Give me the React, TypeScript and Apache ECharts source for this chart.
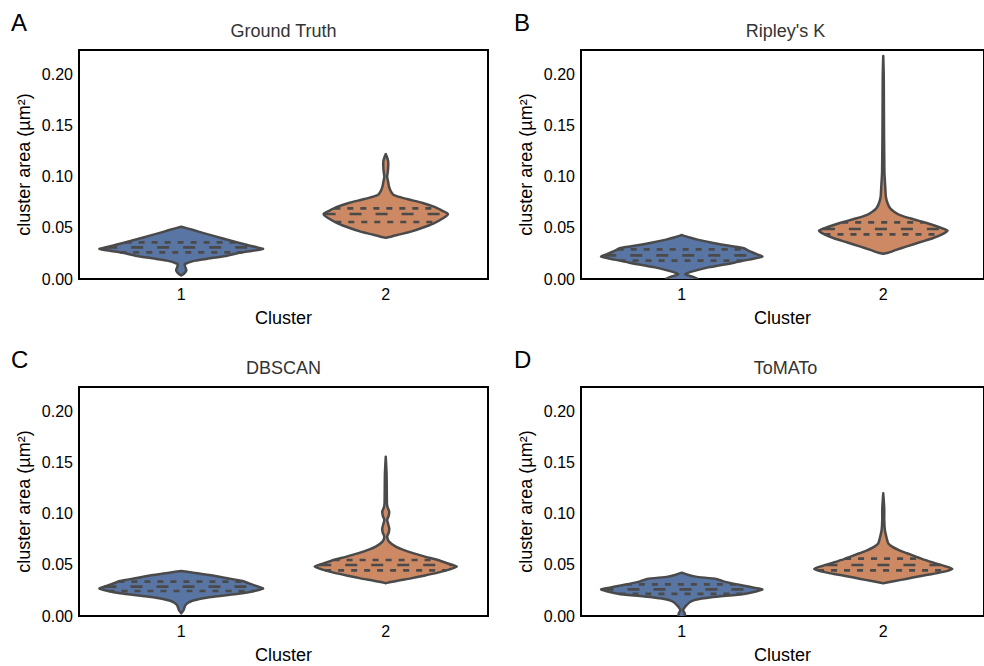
import React, { useEffect, useRef } from "react";
import * as echarts from "echarts";

// ---------- data ----------
const categories = ["1", "2"];
const yTicks = [0, 0.05, 0.1, 0.15, 0.2];
const yMax = 0.2245;
const panelTitles = ["Ground Truth", "Ripley's K", "DBSCAN", "ToMATo"];
const panelLetters = ["A", "B", "C", "D"];

// Violin outlines: y values (µm²) and half-widths (fraction of category band)
const gt1Y = [0.0035, 0.0055, 0.0085, 0.0115, 0.0145, 0.016, 0.018, 0.02, 0.0225, 0.0255, 0.0275, 0.0294, 0.031, 0.0335, 0.036, 0.038, 0.041, 0.0445, 0.048, 0.0513];
const gt1W = [0, 0.015, 0.025, 0.02, 0.017, 0.034, 0.069, 0.132, 0.216, 0.279, 0.343, 0.4, 0.372, 0.319, 0.27, 0.235, 0.181, 0.118, 0.059, 0];
const gt2Y = [0.0405, 0.0415, 0.044, 0.0464, 0.05, 0.0546, 0.06, 0.0637, 0.067, 0.0709, 0.0745, 0.0775, 0.08, 0.0824, 0.086, 0.0905, 0.095, 0.1003, 0.105, 0.11, 0.115, 0.119, 0.1225];
const gt2W = [0, 0.025, 0.074, 0.123, 0.176, 0.235, 0.284, 0.304, 0.275, 0.235, 0.181, 0.123, 0.074, 0.039, 0.025, 0.016, 0.012, 0.007, 0.01, 0.012, 0.012, 0.007, 0];

const rk1Y = [-0.006, -0.003, 0.0, 0.0025, 0.0046, 0.0072, 0.0114, 0.016, 0.019, 0.0219, 0.025, 0.028, 0.0301, 0.0325, 0.0353, 0.0386, 0.041, 0.0431];
const rk1W = [0, 0.059, 0.078, 0.049, 0.017, 0.049, 0.132, 0.26, 0.333, 0.4, 0.363, 0.328, 0.309, 0.235, 0.157, 0.078, 0.034, 0];
const rk2Y = [0.0248, 0.0258, 0.0285, 0.0317, 0.036, 0.0399, 0.044, 0.0474, 0.051, 0.0552, 0.059, 0.0627, 0.066, 0.0693, 0.075, 0.0807, 0.09, 0.1036, 0.12, 0.14, 0.16, 0.18, 0.2, 0.2186];
const rk2W = [0, 0.025, 0.064, 0.113, 0.181, 0.245, 0.294, 0.319, 0.275, 0.211, 0.142, 0.083, 0.054, 0.034, 0.02, 0.013, 0.01, 0.006, 0.005, 0.004, 0.0035, 0.003, 0.0025, 0];

const db1Y = [0.0026, 0.0059, 0.0085, 0.0108, 0.013, 0.015, 0.0183, 0.0222, 0.025, 0.0271, 0.03, 0.0343, 0.037, 0.0402, 0.0425, 0.0441];
const db1W = [0, 0.012, 0.016, 0.021, 0.034, 0.054, 0.137, 0.299, 0.368, 0.4, 0.358, 0.299, 0.225, 0.137, 0.059, 0];
const db2Y = [0.0322, 0.0333, 0.035, 0.0369, 0.0395, 0.0425, 0.0455, 0.0484, 0.0515, 0.0549, 0.058, 0.0614, 0.065, 0.068, 0.0729, 0.0778, 0.082, 0.086, 0.09, 0.0941, 0.098, 0.1023, 0.106, 0.11, 0.125, 0.14, 0.1562];
const db2W = [0, 0.025, 0.069, 0.123, 0.186, 0.255, 0.309, 0.348, 0.304, 0.255, 0.196, 0.137, 0.083, 0.049, 0.016, 0.007, 0.015, 0.017, 0.012, 0.007, 0.014, 0.017, 0.01, 0.006, 0.005, 0.004, 0];

const tm1Y = [-0.002, 0.0, 0.0025, 0.0059, 0.0085, 0.0108, 0.0135, 0.0157, 0.0183, 0.0216, 0.024, 0.0262, 0.028, 0.0297, 0.0337, 0.0363, 0.0386, 0.0405, 0.0425];
const tm1W = [0, 0.015, 0.015, 0.007, 0.015, 0.025, 0.039, 0.064, 0.147, 0.309, 0.368, 0.4, 0.353, 0.309, 0.211, 0.172, 0.069, 0.029, 0];
const tm2Y = [0.032, 0.033, 0.0345, 0.0363, 0.039, 0.0412, 0.0435, 0.0461, 0.049, 0.0516, 0.055, 0.0582, 0.0615, 0.0641, 0.068, 0.0712, 0.078, 0.0843, 0.0941, 0.105, 0.1203];
const tm2W = [0, 0.025, 0.064, 0.113, 0.181, 0.245, 0.304, 0.343, 0.304, 0.26, 0.206, 0.162, 0.118, 0.083, 0.044, 0.025, 0.015, 0.008, 0.005, 0.005, 0];

// Quartiles [q1, median, q3] per violin
const gtQuartiles = [[0.0261, 0.031, 0.0359], [0.0559, 0.0637, 0.0693]];
const rkQuartiles = [[0.018, 0.0232, 0.0291], [0.0438, 0.049, 0.0556]];
const dbQuartiles = [[0.0245, 0.0288, 0.0337], [0.0448, 0.05, 0.0549]];
const tmQuartiles = [[0.0216, 0.0261, 0.031], [0.0448, 0.05, 0.0562]];

const violinColors = ["#5875a4", "#cc8963"];
const lineColor = "#4a4a4a";

type Violin = { y: number[]; w: number[]; q: number[] };
const panels: Violin[][] = [
  [{ y: gt1Y, w: gt1W, q: gtQuartiles[0] }, { y: gt2Y, w: gt2W, q: gtQuartiles[1] }],
  [{ y: rk1Y, w: rk1W, q: rkQuartiles[0] }, { y: rk2Y, w: rk2W, q: rkQuartiles[1] }],
  [{ y: db1Y, w: db1W, q: dbQuartiles[0] }, { y: db2Y, w: db2W, q: dbQuartiles[1] }],
  [{ y: tm1Y, w: tm1W, q: tmQuartiles[0] }, { y: tm2Y, w: tm2W, q: tmQuartiles[1] }],
];

// layout
const gridRects = [
  { left: 79, top: 50 },
  { left: 581, top: 50 },
  { left: 79, top: 387 },
  { left: 581, top: 387 },
];
const gridW = 409;
const gridH = 229;

const FONT = "'Liberation Sans', Arial, Helvetica, sans-serif";

function interpWidth(ys: number[], ws: number[], v: number): number {
  for (let k = 0; k < ys.length - 1; k++) {
    if (v >= ys[k] && v <= ys[k + 1]) {
      const t = (v - ys[k]) / (ys[k + 1] - ys[k]);
      return ws[k] + t * (ws[k + 1] - ws[k]);
    }
  }
  return 0;
}

function makeRender(violins: Violin[]) {
  return (params: any, api: any) => {
    const idx = params.dataIndex;
    const p = violins[idx];
    const cat = api.value(0);
    const band = api.size([1, 0])[0];
    const cx = api.coord([cat, 0])[0];
    const right = p.y.map((y, k) => [cx + p.w[k] * band, api.coord([cat, y])[1]]);
    const left = p.y.map((y, k) => [cx - p.w[k] * band, api.coord([cat, y])[1]]).reverse();
    const points = right.concat(left);
    const lines = p.q.map((qv, k) => {
      const hw = interpWidth(p.y, p.w, qv) * band;
      const yy = api.coord([cat, qv])[1];
      return {
        type: "line",
        shape: { x1: cx - hw, y1: yy, x2: cx + hw, y2: yy },
        style: {
          stroke: lineColor,
          lineWidth: 2.7,
          lineDash: k === 1 ? [12, 14] : [6, 7],
          fill: null,
        },
      };
    });
    return {
      type: "group",
      children: [
        {
          type: "polygon",
          shape: { points, smooth: 0.2 },
          style: { fill: violinColors[idx], stroke: lineColor, lineWidth: 2.5, lineJoin: "round" },
        },
        ...lines,
      ],
    };
  };
}

export default function App() {
  const ref = useRef<HTMLDivElement>(null);
  useEffect(() => {
    if (!ref.current) return;
    const chart = echarts.init(ref.current, undefined, { renderer: "svg" });
    const grid = gridRects.map((g) => ({
      left: g.left,
      top: g.top,
      width: gridW,
      height: gridH,
      show: true,
      borderColor: "#000",
      borderWidth: 2,
      backgroundColor: "transparent",
      containLabel: false,
    }));
    const xAxis = gridRects.map((_, i) => ({
      type: "category",
      gridIndex: i,
      data: categories,
      boundaryGap: true,
      axisLine: { show: false },
      axisTick: { show: false },
      splitLine: { show: false },
      axisLabel: { color: "#000", fontSize: 16, fontFamily: FONT, margin: 7 },
      name: "Cluster",
      nameLocation: "middle",
      nameGap: 30,
      nameTextStyle: { color: "#000", fontSize: 18, fontFamily: FONT },
    }));
    const yAxis = gridRects.map((_, i) => ({
      type: "value",
      gridIndex: i,
      min: yTicks[0],
      max: yMax,
      interval: 0.05,
      axisLine: { show: false },
      axisTick: { show: false },
      splitLine: { show: false },
      axisLabel: {
        color: "#000",
        fontSize: 16,
        fontFamily: FONT,
        margin: 6,
        formatter: (v: number) => {
          const hit = yTicks.find((t) => Math.abs(t - v) < 1e-9);
          return hit === undefined ? "" : hit.toFixed(2);
        },
      },
      name: "cluster area (µm²)",
      nameLocation: "middle",
      nameRotate: 90,
      nameGap: 46,
      nameTextStyle: { color: "#000", fontSize: 18, fontFamily: FONT },
    }));
    const series = panels.map((violins, i) => ({
      type: "custom",
      xAxisIndex: i,
      yAxisIndex: i,
      clip: true,
      data: violins.map((_, k) => [k, 0.05]),
      encode: { x: 0, y: 1 },
      renderItem: makeRender(violins),
      silent: true,
    }));
    const titles: any[] = [];
    gridRects.forEach((g, i) => {
      titles.push({
        text: panelTitles[i],
        left: g.left + gridW / 2,
        top: g.top - 28,
        textAlign: "center",
        padding: 0,
        textStyle: { color: "#333", fontSize: 18, fontWeight: "normal", fontFamily: FONT },
      });
      titles.push({
        text: panelLetters[i],
        left: i % 2 === 0 ? 11 : 514,
        top: g.top - 40,
        padding: 0,
        textStyle: { color: "#000", fontSize: 24, fontWeight: "normal", fontFamily: FONT },
      });
    });
    chart.setOption({
      animation: false,
      backgroundColor: "#fff",
      textStyle: { fontFamily: FONT },
      title: titles,
      grid,
      xAxis,
      yAxis,
      series,
    });
    return () => chart.dispose();
  }, []);
  return (
    <div
      ref={ref}
      style={{ position: "fixed", left: 0, top: 0, width: 984, height: 666 }}
    />
  );
}
